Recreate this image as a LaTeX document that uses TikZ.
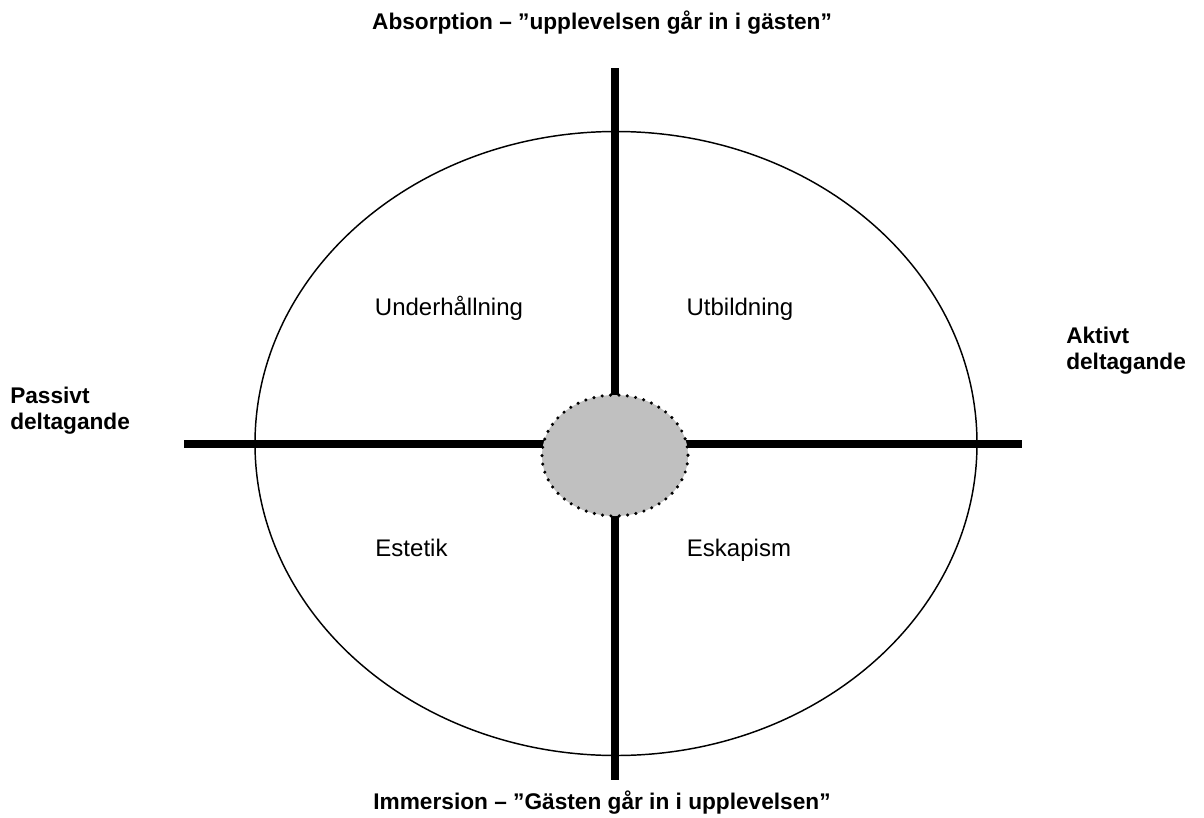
\documentclass[tikz,border=0pt]{standalone}
\usepackage{fontspec}
\setmainfont{Liberation Sans}
\usepackage{tikz}
\usepackage{xcolor}
\definecolor{CoreGray}{RGB}{192,192,192}
\usetikzlibrary{positioning, shapes, calc}

\begin{document}
\begin{tikzpicture}[
  x=0.75pt, y=-0.75pt,
  axis/.style={line width=6.3pt, black},
  outer/.style={line width=1.1pt, black},
  core/.style={fill=CoreGray, draw=black, line width=2.6pt, line cap=round, dash pattern=on 0pt off 6.3pt},
  quadrant/.style={font=\fontsize{18}{21}\selectfont, inner sep=0pt, anchor=base},
  heading/.style={font=\bfseries\fontsize{17}{19.5}\selectfont, inner sep=0pt},
  side/.style={font=\bfseries\fontsize{17}{19.5}\selectfont, inner sep=0pt, align=left, anchor=north west}
]
\useasboundingbox (0,0) rectangle (1204,818);

% Axis end points
\coordinate (top) at (615,68);
\coordinate (bottom) at (615,780);
\coordinate (left) at (184,444);
\coordinate (right) at (1022,444);

% Outer ellipse
\draw[outer] (616,443.5) ellipse [x radius=361, y radius=312];

% Axes
\draw[axis] (top) -- (bottom);
\draw[axis] (left) -- (right);

% Centre
\path[core] (615,455.5) ellipse [x radius=73, y radius=60.5];

% Quadrants
\node[quadrant] (underh) at (449,315) {Underhållning};
\node[quadrant] (utbild) at (740,315) {Utbildning};
\node[quadrant] (estetik) at (411.5,556) {Estetik};
\node[quadrant] (eskap) at (739,556) {Eskapism};

% Axis labels
\node[heading, anchor=base] (absorp) at (602,29) {Absorption – ”upplevelsen går in i gästen”};
\node[heading, anchor=base] (immers) at (602,809) {Immersion – ”Gästen går in i upplevelsen”};
\node[side] (passiv) at (10,387) {Passivt\\deltagande};
\node[side] (aktiv) at (1066,327) {Aktivt\\deltagande};

\end{tikzpicture}
\end{document}
